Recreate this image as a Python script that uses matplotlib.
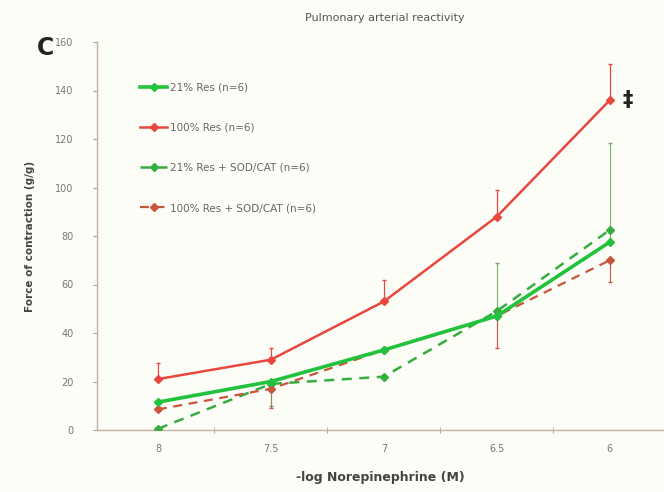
import matplotlib
matplotlib.use("Agg")
import matplotlib.pyplot as plt
import numpy as np

# Concentrations (-log M) and group means / SEM of contraction force (g/g)
doses = ["8", "7.5", "7", "6.5", "6"]
labels = ["21% Res (n=6)", "100% Res (n=6)",
          "21% Res + SOD/CAT (n=6)", "100% Res + SOD/CAT (n=6)"]
res21 = [11.5, 20, 33, 47, 77.5]
res21_err = [0, 0, 0, 22, 41]
res100 = [21, 29, 53, 88, 136]
res100_err = [6.5, 5, 9, 11, 15]
res21_sod = [0.5, 19, 22, 49, 82.5]
res21_sod_err = [0, 9, 0, 0, 0]
res100_sod = [8.5, 17, 33, 47, 70]
res100_sod_err = [0, 8, 0, 13, 9]

fig = plt.figure(figsize=(6.64, 4.92), dpi=100, facecolor="#fdfdf8")
ax = fig.add_axes([97 / 664, 1 - 430 / 492, 567 / 664, 388 / 492])
ax.set_facecolor("#fdfdf8")

x = np.arange(len(doses))
red = "#e8473d"
green = "#22c23c"
red_d = "#c9553f"
green_d = "#35ad3f"

# error bars (one-sided)
ax.errorbar(x, res100, yerr=[np.zeros(5), res100_err], fmt="none",
            ecolor=red, elinewidth=0.9, capsize=1.5, zorder=2)
ax.errorbar(x, res21, yerr=[np.zeros(5), res21_err], fmt="none",
            ecolor="#7fa86f", elinewidth=0.8, capsize=1.5, zorder=2)
ax.errorbar(x, res100_sod, yerr=[res100_sod_err, np.zeros(5)], fmt="none",
            ecolor=red_d, elinewidth=0.8, capsize=1.5, zorder=2)
ax.errorbar(x, res21_sod, yerr=[res21_sod_err, np.zeros(5)], fmt="none",
            ecolor="#8a8a5a", elinewidth=0.8, capsize=1.5, zorder=2)

ax.plot(x, res21, "-", color=green, lw=2.6, marker="D", ms=4.5, label=labels[0], zorder=4)
ax.plot(x, res100, "-", color=red, lw=1.8, marker="D", ms=4.5, label=labels[1], zorder=4)
ax.plot(x, res21_sod, "--", color=green_d, lw=1.8, marker="D", ms=4.5,
        dashes=(4, 3), label=labels[2], zorder=3)
ax.plot(x, res100_sod, "--", color=red_d, lw=1.6, marker="D", ms=4.5,
        dashes=(4, 3), label=labels[3], zorder=3)

ax.set_xlim(-0.54, 4.48)
ax.set_ylim(0, 160)
ax.set_yticks(np.arange(0, 161, 20))
ax.set_xticks(x)
ax.set_xticklabels(doses)
ax.set_xticks(np.arange(0.5, 4.5, 1), minor=True)
ax.tick_params(axis="x", which="major", length=0, pad=10, labelsize=7, colors="#777777")
ax.tick_params(axis="x", which="minor", length=4, direction="inout", color="#b0a090")
ax.tick_params(axis="y", length=3, labelsize=7, colors="#777777", color="#b0a090", pad=14)
for s in ["top", "right"]:
    ax.spines[s].set_visible(False)
for s in ["left", "bottom"]:
    ax.spines[s].set_color("#c0b0a0")
    ax.spines[s].set_linewidth(1.0)

ax.set_ylabel("Force of contraction (g/g)", fontsize=7.5, fontweight="bold",
              color="#444444", labelpad=14)
ax.set_xlabel("-log Norepinephrine (M)", fontsize=9, fontweight="bold",
              color="#444444", labelpad=12)

leg = ax.legend(loc="upper left", bbox_to_anchor=(0.06, 0.92), frameon=False,
                fontsize=7.5, labelspacing=2.9, handlelength=2.6, handletextpad=0.2,
                markerscale=0.9)
for t in leg.get_texts():
    t.set_color("#666666")

fig.text(385 / 664, 1 - 18 / 492, "Pulmonary arterial reactivity", ha="center",
         va="center", fontsize=8, color="#555555")
fig.text(45 / 664, 1 - 48 / 492, "C", ha="center", va="center", fontsize=17,
         fontweight="bold", color="#222222")
ax.text(4.16, 136, "\u2021", ha="center", va="center", fontsize=15,
        fontweight="bold", color="#222222")

fig.savefig("out.png", dpi=100, facecolor=fig.get_facecolor())
